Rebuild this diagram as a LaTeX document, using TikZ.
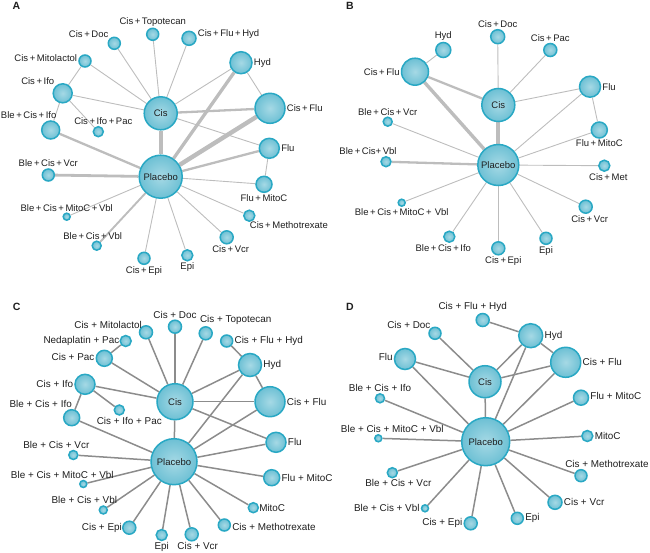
\documentclass[tikz,border=0pt]{standalone}
\usepackage{fontspec}
\setmainfont{Liberation Sans}
\usetikzlibrary{backgrounds}
\definecolor{nodering}{HTML}{29A8C4}
\definecolor{nodein}{HTML}{A6D9E5}
\definecolor{nodeout}{HTML}{6DC0D4}
\definecolor{labeltext}{HTML}{1E1E1E}
\definecolor{tielight}{HTML}{BDBDBD}
\definecolor{tiedark}{HTML}{8C8C8C}
\tikzset{
  drug/.style={circle, draw=nodering, line width=1.5pt, inner color=nodein, outer color=nodeout,
    inner sep=0pt, font=\fontsize{9.5}{11}\selectfont, text=labeltext},
  lbl/.style={font=\fontsize{9.5}{11}\selectfont, text=labeltext, inner sep=1pt},
  lblC/.style={lbl, font=\fontsize{9.9}{11}\selectfont},
  tie/.style={draw=tielight, line width=0.9pt},
  tiemid/.style={draw=tielight, line width=2.3pt},
  tiefat/.style={draw=tielight, line width=3.8pt},
  tieC/.style={draw=tiedark, line width=1.5pt},
  panel/.style={font=\bfseries\fontsize{10.5}{12}\selectfont, text=labeltext, inner sep=0pt}
}
\begin{document}
\begin{tikzpicture}[x=1pt, y=-1pt]
  \useasboundingbox (0,0) rectangle (650,552);

  % Paneel A
  \node[panel] (labA) at (16.3,6.3) {A};
  \node[drug, minimum size=43pt] (aPla) at (160.7,176.7) {Placebo};
  \node[drug, minimum size=33pt] (aCis) at (160.7,113.3) {Cis};
  \node[drug, minimum size=12pt, label={[lbl]above:Cis\,+\,Topotecan}] (aTopo) at (152.7,34.3) {};
  \node[drug, minimum size=12pt, label={[lbl]above left:Cis\,+\,Doc}] (aDoc) at (114.3,43.3) {};
  \node[drug, minimum size=14pt, label={[lbl,yshift=4pt]right:Cis\,+\,Flu\,+\,Hyd}] (aCFH) at (189,38.3) {};
  \node[drug, minimum size=12pt, label={[lbl,yshift=3pt]left:Cis\,+\,Mitolactol}] (aMito) at (85,61) {};
  \node[drug, minimum size=22pt, label={[lbl]right:Hyd}] (aHyd) at (241,62.7) {};
  \node[drug, minimum size=19pt, label={[lbl]above left:Cis\,+\,Ifo}] (aIfo) at (62.7,93.3) {};
  \node[drug, minimum size=30pt, label={[lbl]right:Cis\,+\,Flu}] (aCF) at (270,108.3) {};
  \node[drug, minimum size=18pt, label={[lbl,xshift=-22pt]above:Ble\,+\,Cis\,+\,Ifo}] (aBCI) at (50.7,130) {};
  \node[drug, minimum size=10pt, label={[lbl,xshift=5pt]above:Cis\,+\,Ifo\,+\,Pac}] (aCIP) at (98.3,131.7) {};
  \node[drug, minimum size=20pt, label={[lbl]right:Flu}] (aFlu) at (269.3,148.3) {};
  \node[drug, minimum size=12pt, label={[lbl]above:Ble\,+\,Cis\,+\,Vcr}] (aBCV) at (48.3,175) {};
  \node[drug, minimum size=16pt, label={[lbl]below:Flu\,+\,MitoC}] (aFM) at (264,184.3) {};
  \node[drug, minimum size=7pt, label={[lbl]above:Ble\,+\,Cis\,+\,MitoC\,+\,Vbl}] (aBCMV) at (66.7,216.7) {};
  \node[drug, minimum size=11pt, label={[lbl,xshift=-5pt]below right:Cis\,+\,Methotrexate}] (aCM) at (249.3,215.7) {};
  \node[drug, minimum size=9pt, label={[lbl,xshift=-4pt]above:Ble\,+\,Cis\,+\,Vbl}] (aBCVb) at (96.7,245.7) {};
  \node[drug, minimum size=13pt, label={[lbl,xshift=4pt]below:Cis\,+\,Vcr}] (aCV) at (226.7,237.3) {};
  \node[drug, minimum size=12pt, label={[lbl]below:Cis\,+\,Epi}] (aCE) at (144,258.3) {};
  \node[drug, minimum size=11pt, label={[lbl]below:Epi}] (aEpi) at (187.3,255.3) {};

  \begin{scope}[on background layer]
    \foreach \n in {aTopo,aDoc,aCFH,aMito,aIfo,aHyd,aFlu}
      \draw[tie] (aCis) -- (\n);
    \foreach \n in {aFM,aCM,aCV,aEpi,aCE,aBCMV}
      \draw[tie] (aPla) -- (\n);
    \draw[tie] (aHyd) -- (aCF);
    \draw[tie] (aFlu) -- (aFM);
    \draw[tie] (aIfo) -- (aBCI);
    \draw[tie] (aIfo) -- (aCIP);
    \draw[tie] (aIfo) -- (aMito);
    \draw[tiemid] (aCis) -- (aCF);
    \draw[tiemid] (aPla) -- (aFlu);
    \draw[tiemid] (aPla) -- (aBCI);
    \draw[tiemid, line width=1.9pt] (aPla) -- (aBCVb);
    \draw[tiemid, line width=2.8pt] (aPla) -- (aBCV);
    \draw[tiefat] (aCis) -- (aPla);
    \draw[tiefat, line width=3.3pt] (aPla) -- (aHyd);
    \draw[tiefat, line width=4.4pt] (aPla) -- (aCF);
  \end{scope}

  % Paneel B
  \node[panel] (labB) at (350,6.3) {B};
  \node[drug, minimum size=41pt] (bPla) at (498.3,165) {Placebo};
  \node[drug, minimum size=33pt] (bCis) at (498.3,105) {Cis};
  \node[drug, minimum size=14pt, label={[lbl]above:Cis\,+\,Doc}] (bDoc) at (497.7,36.7) {};
  \node[drug, minimum size=15pt, label={[lbl]above:Hyd}] (bHyd) at (443.3,50) {};
  \node[drug, minimum size=13pt, label={[lbl]above:Cis\,+\,Pac}] (bPac) at (550.3,50) {};
  \node[drug, minimum size=27pt, label={[lbl]left:Cis\,+\,Flu}] (bCF) at (415,71.7) {};
  \node[drug, minimum size=21pt, label={[lbl]right:Flu}] (bFlu) at (590,86.7) {};
  \node[drug, minimum size=9pt, label={[lbl]above:Ble\,+\,Cis\,+\,Vcr}] (bBCV) at (387.7,121.7) {};
  \node[drug, minimum size=16pt, label={[lbl]below:Flu\,+\,MitoC}] (bFM) at (599.3,130) {};
  \node[drug, minimum size=10pt, label={[lbl,xshift=-18pt]above:Ble\,+\,Cis+\,Vbl}] (bBCVb) at (386,161.7) {};
  \node[drug, minimum size=11pt, label={[lbl,xshift=4pt]below:Cis\,+\,Met}] (bCM) at (604.3,165.7) {};
  \node[drug, minimum size=7pt, label={[lbl]below:Ble\,+\,Cis\,+\,MitoC\,+\,\,Vbl}] (bBCMV) at (401.7,202.7) {};
  \node[drug, minimum size=13pt, label={[lbl,xshift=4pt]below:Cis\,+\,Vcr}] (bCV) at (585.7,206.7) {};
  \node[drug, minimum size=11pt, label={[lbl,xshift=-6pt]below:Ble\,+\,Cis\,+\,Ifo}] (bBCI) at (449.3,236.7) {};
  \node[drug, minimum size=12pt, label={[lbl]below:Epi}] (bEpi) at (546,238.3) {};
  \node[drug, minimum size=13pt, label={[lbl,xshift=5pt]below:Cis\,+\,Epi}] (bCE) at (498.3,248.3) {};

  \begin{scope}[on background layer]
    \foreach \n in {bDoc,bPac,bFlu}
      \draw[tie] (bCis) -- (\n);
    \foreach \n in {bFlu,bFM,bBCV,bCM,bCV,bEpi,bCE,bBCI,bBCMV}
      \draw[tie] (bPla) -- (\n);
    \draw[tie] (bHyd) -- (bCF);
    \draw[tie] (bFlu) -- (bFM);
    \draw[tiemid] (bCis) -- (bCF);
    \draw[tiemid] (bPla) -- (bBCVb);
    \draw[tiefat] (bCis) -- (bPla);
    \draw[tiefat, line width=3.4pt] (bPla) -- (bCF);
  \end{scope}

  % Paneel C
  \node[panel] (labC) at (16.7,307) {C};
  \node[drug, minimum size=46pt] (cPla) at (174,461.7) {Placebo};
  \node[drug, minimum size=36pt] (cCis) at (175,401.7) {Cis};
  \node[drug, minimum size=13pt, label={[lblC]above:Cis + Doc}] (cDoc) at (175,326.7) {};
  \node[drug, minimum size=13pt, label={[lblC,label distance=-3pt]above left:Cis + Mitolactol}] (cMito) at (146,332.3) {};
  \node[drug, minimum size=13pt, label={[lblC,xshift=30pt]above:Cis + Topotecan}] (cTopo) at (205.7,333.3) {};
  \node[drug, minimum size=11pt, label={[lblC,label distance=-1pt]left:Nedaplatin + Pac}] (cNP) at (125.7,341) {};
  \node[drug, minimum size=12pt, label={[lblC]right:Cis + Flu + Hyd}] (cCFH) at (226.7,341) {};
  \node[drug, minimum size=16pt, label={[lblC,yshift=1.5pt]left:Cis + Pac}] (cPac) at (104.3,358.3) {};
  \node[drug, minimum size=23pt, label={[lblC]right:Hyd}] (cHyd) at (250,365) {};
  \node[drug, minimum size=20pt, label={[lblC]left:Cis + Ifo}] (cIfo) at (85,384.3) {};
  \node[drug, minimum size=30pt, label={[lblC]right:Cis + Flu}] (cCF) at (270,401.7) {};
  \node[drug, minimum size=16pt, label={[lblC,xshift=-31pt]above:Ble + Cis + Ifo}] (cBCI) at (71.7,417.7) {};
  \node[drug, minimum size=10pt, label={[lblC,xshift=10pt]below:Cis + Ifo + Pac}] (cCIP) at (119.3,410) {};
  \node[drug, minimum size=20pt, label={[lblC]right:Flu}] (cFlu) at (276,442.3) {};
  \node[drug, minimum size=9pt, label={[lblC,xshift=-17pt]above:Ble + Cis + Vcr}] (cBCV) at (73.3,455) {};
  \node[drug, minimum size=7pt, label={[lblC,xshift=-21pt]above:Ble + Cis + MitoC + Vbl}] (cBCMV) at (83.3,484) {};
  \node[drug, minimum size=16pt, label={[lblC]right:Flu + MitoC}] (cFM) at (271.7,477.7) {};
  \node[drug, minimum size=8pt, label={[lblC,xshift=-19pt]above:Ble + Cis + Vbl}] (cBCVb) at (103.3,510) {};
  \node[drug, minimum size=10pt, label={[lblC,label distance=-1pt]right:MitoC}] (cMitoC) at (253.3,507.7) {};
  \node[drug, minimum size=13pt, label={[lblC,label distance=-1pt]left:Cis + Epi}] (cCE) at (129.3,527.7) {};
  \node[drug, minimum size=12pt, label={[lblC,yshift=-2pt]right:Cis + Methotrexate}] (cCM) at (224.3,525) {};
  \node[drug, minimum size=11pt, label={[lblC]below:Epi}] (cEpi) at (161.7,535) {};
  \node[drug, minimum size=13pt, label={[lblC,xshift=6pt]below:Cis + Vcr}] (cCV) at (191.7,534.3) {};

  \begin{scope}[on background layer]
    \foreach \n in {cDoc,cMito,cTopo,cPac,cIfo,cHyd,cCF,cFlu,cPla}
      \draw[tieC] (cCis) -- (\n);
    \foreach \n in {cHyd,cCF,cFlu,cBCI,cBCV,cBCMV,cBCVb,cCE,cEpi,cCV,cCM,cMitoC,cFM}
      \draw[tieC] (cPla) -- (\n);
    \draw[tieC] (cPac) -- (cNP);
    \draw[tieC] (cHyd) -- (cCFH);
    \draw[tieC] (cHyd) -- (cCF);
    \draw[tieC] (cIfo) -- (cCIP);
    \draw[tieC] (cIfo) -- (cBCI);
  \end{scope}

  % Paneel D
  \node[panel] (labD) at (350,307) {D};
  \node[drug, minimum size=48pt] (dPla) at (485.7,441.7) {Placebo};
  \node[drug, minimum size=32pt] (dCis) at (485,381.7) {Cis};
  \node[drug, minimum size=13pt, label={[lblC,xshift=-10pt]above:Cis + Flu + Hyd}] (dCFH) at (482.7,320) {};
  \node[drug, minimum size=12pt, label={[lblC,label distance=-2pt]above left:Cis + Doc}] (dDoc) at (435,333.3) {};
  \node[drug, minimum size=24pt, label={[lblC]right:Hyd}] (dHyd) at (530.7,335.7) {};
  \node[drug, minimum size=21pt, label={[lblC,yshift=2pt]left:Flu}] (dFlu) at (405,359) {};
  \node[drug, minimum size=30pt, label={[lblC]right:Cis + Flu}] (dCF) at (565.7,362.3) {};
  \node[drug, minimum size=9pt, label={[lblC]above:Ble + Cis + Ifo}] (dBCI) at (380,398.3) {};
  \node[drug, minimum size=15pt, label={[lblC,yshift=1.5pt]right:Flu + MitoC}] (dFM) at (581,397.7) {};
  \node[drug, minimum size=7pt, label={[lblC,xshift=14pt]above:Ble + Cis + MitoC + Vbl}] (dBCMV) at (378.3,438.3) {};
  \node[drug, minimum size=11pt, label={[lblC]right:MitoC}] (dMitoC) at (587.3,436) {};
  \node[drug, minimum size=12pt, label={[lblC,xshift=26pt]above:Cis + Methotrexate}] (dCM) at (581,475.7) {};
  \node[drug, minimum size=10pt, label={[lblC,xshift=6pt]below:Ble + Cis + Vcr}] (dBCV) at (392.3,472.7) {};
  \node[drug, minimum size=14pt, label={[lblC]right:Cis + Vcr}] (dCV) at (555,502.3) {};
  \node[drug, minimum size=7pt, label={[lblC]left:Ble + Cis + Vbl}] (dBCVb) at (425,508.3) {};
  \node[drug, minimum size=12pt, label={[lblC]right:Epi}] (dEpi) at (517.3,518.3) {};
  \node[drug, minimum size=13pt, label={[lblC]left:Cis + Epi}] (dCE) at (470.7,523.3) {};

  \begin{scope}[on background layer]
    \foreach \n in {dDoc,dHyd,dFlu,dCF,dPla}
      \draw[tieC] (dCis) -- (\n);
    \foreach \n in {dHyd,dFlu,dCF,dBCI,dFM,dBCMV,dMitoC,dCM,dBCV,dCV,dBCVb,dEpi,dCE}
      \draw[tieC] (dPla) -- (\n);
    \draw[tieC] (dHyd) -- (dCFH);
    \draw[tieC] (dHyd) -- (dCF);
  \end{scope}
\end{tikzpicture}
\end{document}
